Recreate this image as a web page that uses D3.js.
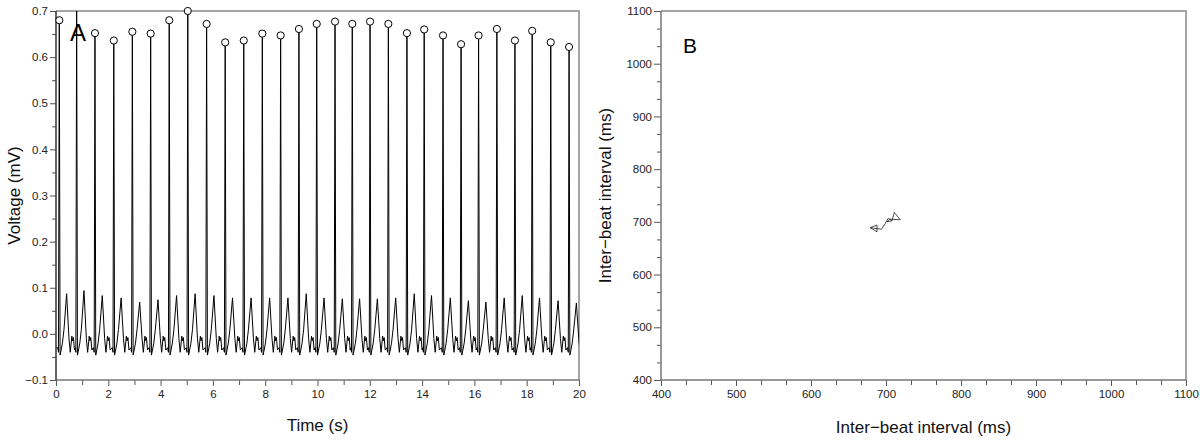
<!DOCTYPE html>
<html>
<head>
<meta charset="utf-8">
<script src="https://cdn.jsdelivr.net/npm/d3@7"></script>
<style>
  body { margin: 0; background: #fff; }
  text { font-family: "Liberation Sans", Arial, sans-serif; }
  .tick text { font-size: 11.5px; fill: #222; }
  .tick line { stroke: #555; }
  .axisTitle { font-size: 17px; fill: #111; }
</style>
</head>
<body>
<div id="chart"></div>
<script>
// Data
// =================================
// Panel A: R peak times (s), R amplitude (mV), T wave amplitude (mV), peak detected (circle)
var beatTimes = [0.126, 0.79, 1.49, 2.21, 2.92, 3.62, 4.33, 5.04, 5.76, 6.47, 7.18, 7.89, 8.59, 9.29,
                 9.97, 10.67, 11.33, 12.01, 12.71, 13.42, 14.08, 14.80, 15.49, 16.16, 16.86, 17.55, 18.21, 18.92, 19.62];
var rPeaks = [0.680, 0.720, 0.652, 0.636, 0.655, 0.651, 0.680, 0.700, 0.672, 0.632, 0.636, 0.651, 0.647, 0.661,
              0.672, 0.677, 0.672, 0.677, 0.672, 0.652, 0.660, 0.647, 0.628, 0.647, 0.661, 0.636, 0.657, 0.632, 0.622];
var tPeaks = [0.087, 0.094, 0.083, 0.078, 0.069, 0.074, 0.083, 0.087, 0.083, 0.078, 0.078, 0.078, 0.078, 0.087,
              0.078, 0.076, 0.076, 0.076, 0.078, 0.087, 0.083, 0.078, 0.072, 0.069, 0.078, 0.083, 0.078, 0.072, 0.067];
var detected = [1, 0, 1, 1, 1, 1, 1, 1, 1, 1, 1, 1, 1, 1,
                1, 1, 1, 1, 1, 1, 1, 1, 1, 1, 1, 1, 1, 1, 1];

// one beat as seen between spikes: offset from R (s) and voltage (mV); null = take R / T from above
var shapeOffsets = [-0.06, -0.03, 0, 0.03, 0.07, 0.12, 0.18, 0.28, 0.37, 0.42, 0.48, 0.51, 0.54, 0.58];
var shapeVolts   = [-0.030, -0.040, null, -0.046, -0.035, -0.020, 0.010, null, -0.010, -0.040, -0.005, -0.015, -0.008, -0.035];

// Panel B: inter-beat interval trace (ms)
var ibiX = [679, 688, 688, 679, 694, 699, 703, 708, 711, 719, 705, 701, 708];
var ibiY = [689, 694, 681, 689, 686, 697, 707, 702, 718, 704, 705, 700, 702];

// tick labels
var timeTicks = [0, 2, 4, 6, 8, 10, 12, 14, 16, 18, 20];
var timeMinor = [1, 3, 5, 7, 9, 11, 13, 15, 17, 19];
var voltTicks = [-0.1, 0.0, 0.1, 0.2, 0.3, 0.4, 0.5, 0.6, 0.7];
var voltMinor = [-0.05, 0.05, 0.15, 0.25, 0.35, 0.45, 0.55, 0.65];
var ibiTicks = [400, 500, 600, 700, 800, 900, 1000, 1100];

// Step 1: svg
// =================================
var svg = d3.select("#chart")
    .append("svg")
    .attr("width", 1200)
    .attr("height", 440);

// Step 2: Panel A scales + axes
// =================================
var xA = d3.scaleLinear().domain([0, 20]).range([56, 579]);
var yA = d3.scaleLinear().domain([-0.1, 0.7]).range([380, 11]);

var gA = svg.append("g");

gA.append("g")
    .attr("transform", "translate(0,380)")
    .call(d3.axisBottom(xA).tickValues(timeTicks).tickSize(6).tickPadding(4).tickFormat(d3.format("d")))
    .call(g => g.select(".domain").remove());
gA.append("g")
    .attr("transform", "translate(0,380)")
    .call(d3.axisBottom(xA).tickValues(timeMinor).tickSize(5).tickFormat(""))
    .call(g => g.select(".domain").remove());

gA.append("g")
    .attr("transform", "translate(56,0)")
    .call(d3.axisLeft(yA).tickValues(voltTicks).tickSize(6).tickPadding(2).tickFormat(d3.format(".1f")))
    .call(g => g.select(".domain").remove());
gA.append("g")
    .attr("transform", "translate(56,0)")
    .call(d3.axisLeft(yA).tickValues(voltMinor).tickSize(4).tickFormat(""))
    .call(g => g.select(".domain").remove());

// frame
gA.append("path")
    .attr("d", `M${xA(0)},${yA(0.7)}H${xA(20)}V${yA(-0.1)}`)
    .attr("fill", "none").attr("stroke", "#888").attr("stroke-width", 1.5);
gA.append("path")
    .attr("d", `M${xA(20)},${yA(-0.1)}H${xA(0)}`)
    .attr("fill", "none").attr("stroke", "#777").attr("stroke-width", 1.5);

// Step 3: ECG trace built from the beats
// =================================
var ecg = [[0, -0.03]];
beatTimes.forEach(function (t, i) {
    var nextStart = i < beatTimes.length - 1 ? beatTimes[i + 1] + shapeOffsets[0] : 99;
    shapeOffsets.forEach(function (o, j) {
        var v = shapeVolts[j];
        if (v === null) v = (o === 0) ? rPeaks[i] : tPeaks[i];
        if (t + o < nextStart || j === 0) ecg.push([t + o, v]);
    });
});

svg.append("clipPath").attr("id", "clipA")
    .append("rect")
    .attr("x", xA(0)).attr("y", yA(0.7))
    .attr("width", xA(20) - xA(0)).attr("height", yA(-0.1) - yA(0.7));

gA.append("path")
    .datum(ecg)
    .attr("clip-path", "url(#clipA)")
    .attr("fill", "none")
    .attr("stroke", "#000")
    .attr("stroke-width", 1)
    .attr("d", d3.line().x(d => xA(d[0])).y(d => yA(d[1])));

// left axis line on top of trace
gA.append("line")
    .attr("x1", xA(0)).attr("x2", xA(0))
    .attr("y1", yA(0.7)).attr("y2", yA(-0.1))
    .attr("stroke", "#333").attr("stroke-width", 1.5);

// detected peaks
gA.append("g")
    .selectAll("circle")
    .data(beatTimes.map((t, i) => ({ t: t, v: rPeaks[i], on: detected[i] })).filter(d => d.on))
    .enter()
    .append("circle")
    .attr("cx", d => xA(d.t))
    .attr("cy", d => yA(d.v))
    .attr("r", 3.6)
    .attr("fill", "#fff")
    .attr("stroke", "#000")
    .attr("stroke-width", 1);

gA.append("text")
    .attr("x", 70).attr("y", 41)
    .style("font-size", "24px")
    .text("A");

gA.append("text")
    .attr("class", "axisTitle")
    .attr("text-anchor", "middle")
    .attr("x", (xA(0) + xA(20)) / 2).attr("y", 431)
    .text("Time (s)");

gA.append("text")
    .attr("class", "axisTitle")
    .attr("text-anchor", "middle")
    .attr("transform", `translate(20,${(yA(0.7) + yA(-0.1)) / 2}) rotate(-90)`)
    .text("Voltage (mV)");

// Step 4: Panel B
// =================================
var xB = d3.scaleLinear().domain([400, 1100]).range([661, 1186]);
var yB = d3.scaleLinear().domain([400, 1100]).range([380, 11]);
var ibiMinor = d3.range(400, 1100.1, 100 / 3).filter(v => ibiTicks.indexOf(Math.round(v)) < 0);

var gB = svg.append("g");

gB.append("g")
    .attr("transform", "translate(0,380)")
    .call(d3.axisBottom(xB).tickValues(ibiTicks).tickSize(6).tickPadding(4).tickFormat(d3.format("d")))
    .call(g => g.select(".domain").remove());
gB.append("g")
    .attr("transform", "translate(0,380)")
    .call(d3.axisBottom(xB).tickValues(ibiMinor).tickSize(5).tickFormat(""))
    .call(g => g.select(".domain").remove());

gB.append("g")
    .attr("transform", "translate(661,0)")
    .call(d3.axisLeft(yB).tickValues(ibiTicks).tickSize(7).tickPadding(2).tickFormat(d3.format("d")))
    .call(g => g.select(".domain").remove());
gB.append("g")
    .attr("transform", "translate(661,0)")
    .call(d3.axisLeft(yB).tickValues(ibiMinor).tickSize(4).tickFormat(""))
    .call(g => g.select(".domain").remove());

gB.append("path")
    .attr("d", `M${xB(400)},${yB(1100)}H${xB(1100)}V${yB(400)}`)
    .attr("fill", "none").attr("stroke", "#888").attr("stroke-width", 1.5);
gB.append("path")
    .attr("d", `M${xB(400)},${yB(1100)}V${yB(400)}H${xB(1100)}`)
    .attr("fill", "none").attr("stroke", "#777").attr("stroke-width", 1.5);

gB.append("path")
    .datum(ibiX.map((x, i) => [x, ibiY[i]]))
    .attr("fill", "none")
    .attr("stroke", "#222")
    .attr("stroke-width", 0.8)
    .attr("d", d3.line().x(d => xB(d[0])).y(d => yB(d[1])));

gB.append("text")
    .attr("x", 683).attr("y", 53)
    .style("font-size", "21px")
    .text("B");

gB.append("text")
    .attr("class", "axisTitle")
    .attr("text-anchor", "middle")
    .attr("x", (xB(400) + xB(1100)) / 2).attr("y", 433)
    .text("Inter\u2212beat interval (ms)");

gB.append("text")
    .attr("class", "axisTitle")
    .attr("text-anchor", "middle")
    .attr("transform", `translate(611,${(yB(1100) + yB(400)) / 2}) rotate(-90)`)
    .text("Inter\u2212beat interval (ms)");
</script>
</body>
</html>
